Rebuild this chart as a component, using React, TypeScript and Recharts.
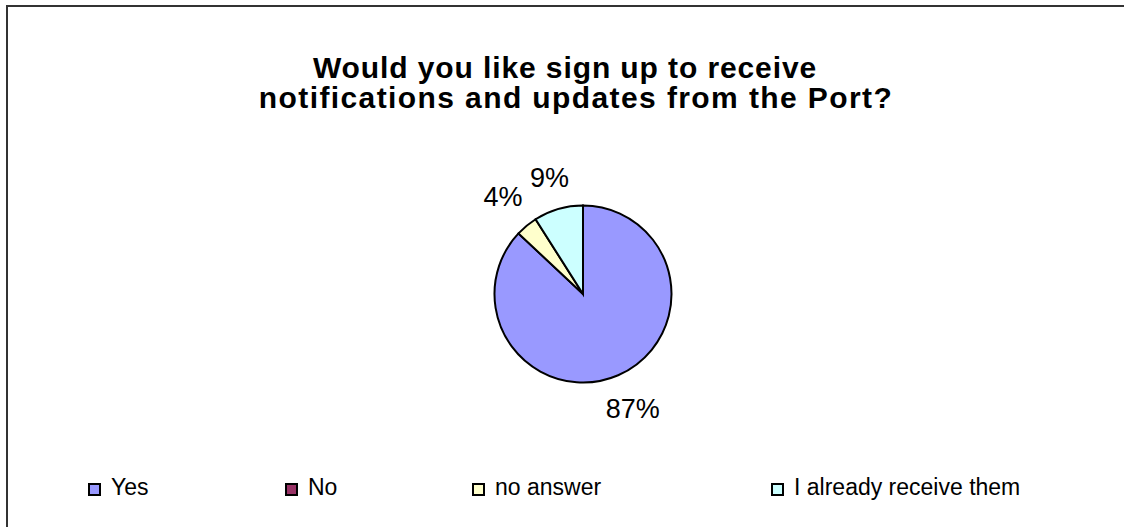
import { PieChart, Pie, Cell, Legend } from "recharts";

const CATEGORIES = ["Yes", "No", "no answer", "I already receive them"];
const SHARES = [87, 0, 4, 9];
const COLORS = ["#9999FF", "#993366", "#FFFFCC", "#CCFFFF"];
const TITLE_LINES = [
  "Would you like sign up to receive",
  "notifications and updates from the Port?",
];

const data = CATEGORIES.map((name, i) => ({ name, value: SHARES[i] }));

const FONT = 'Arial, "Liberation Sans", sans-serif';
const RADIAN = Math.PI / 180;
const LABEL_SIZE = 27;
// left edge of each legend key, as Excel spread them
const LEGEND_X = [88, 285, 472, 771];

function renderLabel(props: any) {
  const { cx, cy, midAngle, outerRadius, value } = props;
  if (!value) return null;
  const text = `${value}%`;
  // rough box of the label, so its nearest edge sits a fixed gap off the rim
  const halfW = (((text.length - 1) * 0.556 + 0.889) * LABEL_SIZE) / 2;
  const halfH = 0.36 * LABEL_SIZE;
  const dx = Math.cos(-midAngle * RADIAN);
  const dy = Math.sin(-midAngle * RADIAN);
  const d = outerRadius + 17 + Math.abs(dx) * halfW + Math.abs(dy) * halfH;
  return (
    <text
      x={cx + d * dx}
      y={cy + d * dy}
      textAnchor="middle"
      dominantBaseline="central"
      fontSize={LABEL_SIZE}
      fontFamily={FONT}
      fill="#000"
    >
      {text}
    </text>
  );
}

function LegendContent() {
  return (
    <div style={{ position: "relative", width: 1124, height: 26, fontFamily: FONT, fontSize: 23 }}>
      {CATEGORIES.map((c, i) => (
        <div
          key={c}
          style={{
            position: "absolute",
            left: LEGEND_X[i],
            top: 0,
            display: "flex",
            alignItems: "flex-start",
            lineHeight: "26px",
          }}
        >
          <span
            style={{
              display: "inline-block",
              width: 13,
              height: 13,
              marginTop: 9,
              marginRight: 10,
              boxSizing: "border-box",
              border: "2px solid #000",
              backgroundColor: COLORS[i],
            }}
          />
          <span style={{ whiteSpace: "pre" }}>{c}</span>
        </div>
      ))}
    </div>
  );
}

export default function App() {
  return (
    <div
      style={{
        position: "fixed",
        left: 0,
        top: 0,
        width: 1124,
        height: 527,
        background: "#fff",
        overflow: "hidden",
      }}
    >
      {/* frame, only top and left edges fall inside the picture */}
      <div
        style={{
          position: "absolute",
          left: 6,
          top: 5,
          width: 1200,
          height: 600,
          borderTop: "2px solid #333",
          borderLeft: "2px solid #333",
        }}
      />

      <div
        style={{
          position: "absolute",
          left: 0,
          top: 53,
          width: 1152,
          textAlign: "center",
          fontFamily: FONT,
          fontWeight: "bold",
          fontSize: 30,
          lineHeight: "30px",
          color: "#000",
        }}
      >
        {TITLE_LINES.map((t, i) => (
          <div
            key={i}
            style={{
              whiteSpace: "pre",
              letterSpacing: i === 0 ? 0.9 : 1.4,
              paddingRight: i === 0 ? 22 : 0,
            }}
          >
            {t}
          </div>
        ))}
      </div>

      <div style={{ position: "absolute", left: 0, top: 0 }}>
        <PieChart width={1124} height={527} margin={{ top: 0, right: 0, bottom: 0, left: 0 }}>
          <Pie
            data={data}
            dataKey="value"
            nameKey="name"
            cx={583}
            cy={294}
            outerRadius={88.5}
            startAngle={90}
            endAngle={-270}
            stroke="#000"
            strokeWidth={2}
            label={renderLabel}
            labelLine={false}
            isAnimationActive={false}
          >
            {data.map((d, i) => (
              <Cell key={d.name} fill={COLORS[i]} />
            ))}
          </Pie>
          <Legend
            content={() => <LegendContent />}
            wrapperStyle={{ left: 0, top: 474, width: 1124, height: 26 }}
          />
        </PieChart>
      </div>
    </div>
  );
}
